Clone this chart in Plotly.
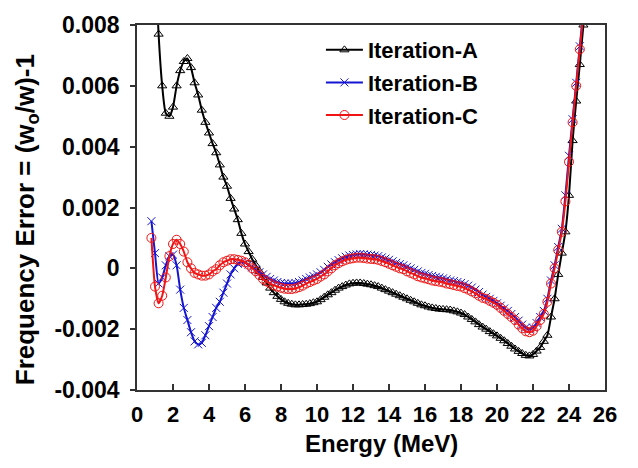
import plotly.graph_objects as go

energy = [0.8, 1.0, 1.2, 1.4, 1.6, 1.8, 2.0, 2.2, 2.4, 2.6, 2.8, 3.0, 3.2, 3.4, 3.6, 3.8,
          4.0, 4.2, 4.4, 4.6, 4.8, 5.0, 5.2, 5.4, 5.6, 5.8, 6.0, 6.2, 6.4, 6.6, 6.8,
          7.0, 7.2, 7.4, 7.6, 7.8, 8.0, 8.2, 8.4, 8.6, 8.8, 9.0, 9.2, 9.4, 9.6, 9.8,
          10.0, 10.2, 10.4, 10.6, 10.8, 11.0, 11.2, 11.4, 11.6, 11.8, 12.0, 12.2, 12.4,
          12.6, 12.8, 13.0, 13.2, 13.4, 13.6, 13.8, 14.0, 14.2, 14.4, 14.6, 14.8, 15.0,
          15.2, 15.4, 15.6, 15.8, 16.0, 16.2, 16.4, 16.6, 16.8, 17.0, 17.2, 17.4, 17.6,
          17.8, 18.0, 18.2, 18.4, 18.6, 18.8, 19.0, 19.2, 19.4, 19.6, 19.8, 20.0, 20.2,
          20.4, 20.6, 20.8, 21.0, 21.2, 21.4, 21.6, 21.8, 22.0, 22.2, 22.4, 22.6, 22.8,
          23.0, 23.2, 23.4, 23.6, 23.8, 24.0, 24.2, 24.4, 24.6, 24.8]

# Iteration-A starts at 1.0 MeV (first value off the top of the chart)
iter_a = [0.0105, 0.0077, 0.0060, 0.0051, 0.0050, 0.0053, 0.0060, 0.0065, 0.0068, 0.0069,
          0.0066, 0.0061, 0.0057, 0.0052, 0.0048, 0.00445, 0.0041, 0.0038, 0.0034, 0.0030,
          0.0027, 0.0023, 0.00195, 0.0016, 0.00115, 0.0008, 0.00055, 0.0003, 0.0001, -0.0001,
          -0.0003, -0.00048, -0.00065, -0.0008, -0.00092, -0.00102, -0.0011, -0.00115, -0.00118,
          -0.0012, -0.0012, -0.00119, -0.00118, -0.00116, -0.00113, -0.0011, -0.00103, -0.00095,
          -0.00087, -0.0008, -0.00072, -0.00065, -0.0006, -0.00055, -0.00051, -0.00049, -0.00048,
          -0.00048, -0.0005, -0.00052, -0.00054, -0.00057, -0.0006, -0.00065, -0.0007, -0.00075,
          -0.0008, -0.00085, -0.0009, -0.00095, -0.001, -0.00105, -0.0011, -0.00115, -0.0012,
          -0.00123, -0.00127, -0.0013, -0.00132, -0.00134, -0.00135, -0.00136, -0.00137, -0.0014,
          -0.00143, -0.00147, -0.00152, -0.0016, -0.00168, -0.00176, -0.00185, -0.00193, -0.002,
          -0.00208, -0.00215, -0.00222, -0.0023, -0.00238, -0.00247, -0.00256, -0.00265, -0.00273,
          -0.0028, -0.00286, -0.00288, -0.00283, -0.00272, -0.0026, -0.0024, -0.0022, -0.0016,
          -0.001, -0.0002, 0.0005, 0.0012, 0.0024, 0.0042, 0.0055, 0.0067, 0.0080]

iter_b = [0.00155, 0.0005, -0.0005, -0.0003, 0.0001, 0.0004, 0.00045, 0.0001, -0.0007, -0.0013,
          -0.0017, -0.0021, -0.0024, -0.0025, -0.00245, -0.0022, -0.0019, -0.0016, -0.0013, -0.0011,
          -0.0008, -0.0005, -0.0002, 0.0, 0.00015, 0.0002, 0.00018, 0.00012, 0.00003, -0.00005,
          -0.00013, -0.0002, -0.00028, -0.00035, -0.0004, -0.00045, -0.00048, -0.0005, -0.0005,
          -0.0005, -0.00048, -0.00045, -0.0004, -0.00035, -0.0003, -0.00025, -0.0002, -0.00013,
          -0.00005, 0.00005, 0.00013, 0.0002, 0.00027, 0.00033, 0.00038, 0.00042, 0.00044, 0.00046,
          0.00047, 0.00046, 0.00045, 0.00044, 0.00042, 0.0004, 0.00036, 0.00032, 0.00028, 0.00023,
          0.00018, 0.00014, 0.0001, 0.00005, 0.0, -0.00005, -0.0001, -0.00015, -0.00018, -0.00022,
          -0.00025, -0.00028, -0.0003, -0.00033, -0.00036, -0.0004, -0.00042, -0.00045, -0.00048,
          -0.00052, -0.00057, -0.00063, -0.0007, -0.00078, -0.00086, -0.00094, -0.001, -0.00107,
          -0.00115, -0.00123, -0.00132, -0.0014, -0.0015, -0.0016, -0.00172, -0.00185, -0.00195,
          -0.002, -0.00195, -0.0018, -0.0016, -0.0014, -0.001, -0.0004, 0.0001, 0.0007, 0.0013,
          0.0024, 0.0037, 0.0049, 0.0061, 0.0073, 0.0085]

iter_c = [0.001, -0.0006, -0.00115, -0.0009, -0.0003, 0.0004, 0.0008, 0.00094, 0.0008, 0.00055,
          0.0002, 0.0, -0.00015, -0.0002, -0.00024, -0.00024, -0.0002, -0.0001, -0.00003, 0.0001,
          0.0002, 0.00025, 0.0003, 0.0003, 0.00028, 0.00025, 0.0002, 0.00012, 0.0, -0.0001,
          -0.00022, -0.00035, -0.00043, -0.0005, -0.00056, -0.0006, -0.00064, -0.00067, -0.00068,
          -0.00068, -0.00066, -0.00062, -0.00057, -0.0005, -0.00045, -0.0004, -0.00035, -0.00027,
          -0.0002, -0.0001, 0.0, 0.0001, 0.00017, 0.00023, 0.00028, 0.00031, 0.00033, 0.00035,
          0.00035, 0.00034, 0.00032, 0.00031, 0.0003, 0.00028, 0.00024, 0.0002, 0.00015, 0.0001,
          0.00005, 0.0, -0.00003, -0.0001, -0.00015, -0.0002, -0.00026, -0.0003, -0.00033, -0.00036,
          -0.0004, -0.00042, -0.00044, -0.00046, -0.0005, -0.00052, -0.00055, -0.00058, -0.0006,
          -0.00065, -0.0007, -0.00076, -0.00082, -0.0009, -0.00097, -0.001, -0.00107, -0.00113,
          -0.0012, -0.0013, -0.0014, -0.0015, -0.0016, -0.0017, -0.00185, -0.00197, -0.00207,
          -0.0021, -0.00205, -0.0019, -0.0017, -0.0015, -0.0011, -0.0005, 0.0, 0.0006, 0.0012,
          0.0022, 0.0035, 0.0048, 0.0060, 0.0072, 0.0084]

names = ["Iteration-A", "Iteration-B", "Iteration-C"]
colors = ["#000000", "#1414d2", "#f01414"]

x_ticks = [0, 2, 4, 6, 8, 10, 12, 14, 16, 18, 20, 22, 24, 26]
y_ticks = [-0.004, -0.002, 0, 0.002, 0.004, 0.006, 0.008]
y_ticklabels = ["-0.004", "-0.002", "0", "0.002", "0.004", "0.006", "0.008"]

x_title = "Energy (MeV)"
y_title = "Frequency Error = (w<sub>o</sub>/w)-1"

font_family = "Liberation Sans, Arial, sans-serif"

fig = go.Figure()
fig.add_trace(go.Scatter(
    x=energy[1:], y=iter_a, name=names[0], mode="lines+markers",
    line=dict(color=colors[0], width=2, shape="spline", smoothing=0.6),
    marker=dict(symbol="triangle-up-open", size=8, color=colors[0], line=dict(width=1)),
    legendgroup="a"))
fig.add_trace(go.Scatter(
    x=energy, y=iter_b, name=names[1], mode="lines+markers",
    line=dict(color=colors[1], width=2, shape="spline", smoothing=0.6),
    marker=dict(symbol="x-thin-open", size=8, color=colors[1], line=dict(width=1, color=colors[1])),
    legendgroup="b"))
fig.add_trace(go.Scatter(
    x=energy, y=iter_c, name=names[2], mode="lines+markers",
    line=dict(color=colors[2], width=2, shape="spline", smoothing=0.6),
    marker=dict(symbol="circle-open", size=9, color=colors[2], line=dict(width=1)),
    legendgroup="c"))

fig.update_layout(
    width=638, height=468,
    margin=dict(l=137, r=33, t=18, b=78),
    paper_bgcolor="white", plot_bgcolor="white",
    font=dict(family=font_family, size=22, color="black", weight="bold"),
    showlegend=True,
    legend=dict(x=0.393, y=0.989, xanchor="left", yanchor="top",
                bgcolor="rgba(255,255,255,0)", borderwidth=0,
                traceorder="grouped", tracegroupgap=1, itemwidth=37,
                font=dict(family=font_family, size=22, color="black", weight="bold")),
    xaxis=dict(range=[0, 26], tickvals=x_ticks, ticks="inside", ticklen=6,
               tickwidth=1.5, tickcolor="#333", showline=True, linecolor="#333",
               linewidth=1.5, mirror=True, showgrid=False, zeroline=False,
               tickfont=dict(size=22), ticklabelstandoff=4),
    yaxis=dict(range=[-0.004, 0.008], tickvals=y_ticks, ticktext=y_ticklabels,
               ticks="outside", ticklen=5, tickwidth=1.5, tickcolor="#333",
               showline=True, linecolor="#333", linewidth=1.5, mirror=True,
               showgrid=False, zeroline=False, tickfont=dict(size=23),
               ticklabelstandoff=6),
    annotations=[
        dict(text=x_title, xref="paper", yref="paper", x=(381 - 137) / 468,
             y=(390 - 445) / 372, xanchor="center", yanchor="middle",
             showarrow=False, font=dict(size=24)),
        dict(text=y_title, xref="paper", yref="paper", x=(26 - 137) / 468,
             y=(390 - 217) / 372, xanchor="center", yanchor="middle",
             textangle=-90, showarrow=False, font=dict(size=26)),
    ],
)

fig.write_html("out.html")
